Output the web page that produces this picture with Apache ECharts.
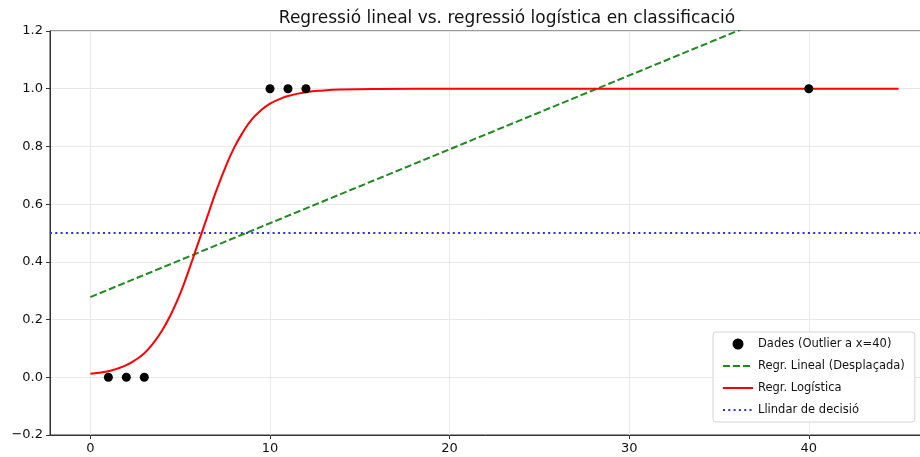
<!DOCTYPE html>
<html>
<head>
<meta charset="utf-8">
<script src="https://cdn.jsdelivr.net/npm/echarts@6/dist/echarts.min.js"></script>
<style>html,body{margin:0;padding:0;background:#fff;}#c{width:920px;height:457px;}</style>
</head>
<body>
<div id="c"></div>
<script>
// Data points (x, class)
const dataX = [1, 2, 3, 10, 11, 12, 40];
const dataY = [0, 0, 0, 1, 1, 1, 1];
// Linear regression line endpoints
const linX = [0, 45];
const linY = [0.278, 1.43];
// Logistic curve samples
const logX = [0, 0.5, 1, 1.5, 2, 2.5, 3, 3.5, 4, 4.5, 5, 5.5, 6, 6.5, 7, 7.5, 8, 8.5, 9, 9.5, 10, 10.5, 11, 12, 13, 14, 16, 20, 30, 45];
const logY = [0.012, 0.016, 0.021, 0.03, 0.042, 0.06, 0.083, 0.118, 0.163, 0.22, 0.29, 0.375, 0.465, 0.555, 0.645, 0.725, 0.795, 0.85, 0.895, 0.925, 0.948, 0.963, 0.975, 0.988, 0.994, 0.997, 0.999, 1.0, 1.0, 1.0];
// Decision threshold
const thrX = [-2.25, 47.25];
const thrY = [0.5, 0.5];
// Tick labels
const xTicks = [0, 10, 20, 30, 40];
const yTicks = [-0.2, 0.0, 0.2, 0.4, 0.6, 0.8, 1.0, 1.2];
const names = ['Dades (Outlier a x=40)', 'Regr. Lineal (Desplaçada)', 'Regr. Logística', 'Llindar de decisió'];
const title = 'Regressió lineal vs. regressió logística en classificació';

const zip = (a, b) => a.map((v, i) => [v, b[i]]);
const font = 'DejaVu Sans';
const chart = echarts.init(document.getElementById('c'));
chart.setOption({
  animation: false,
  backgroundColor: '#fff',
  title: {
    text: title, left: 502, top: 5, textAlign: 'center',
    textStyle: { fontFamily: font, fontSize: 17, fontWeight: 'normal', color: '#111' }
  },
  grid: {
    left: 50, top: 31, right: -19, bottom: 22, outerBoundsMode: 'none',
    show: true, borderColor: '#333', borderWidth: 1, backgroundColor: 'transparent'
  },
  legend: {
    orient: 'vertical', left: 713, top: 332,
    padding: [6, 10, 6, 9], itemGap: 10, itemWidth: 30, itemHeight: 11,
    backgroundColor: 'rgba(255,255,255,0.9)', borderColor: '#d4d4d4', borderWidth: 1, borderRadius: 3,
    textStyle: { fontFamily: font, fontSize: 11.5, color: '#111' },
    data: [
      { name: names[0] },
      { name: names[1], itemStyle: { opacity: 0 } },
      { name: names[2], itemStyle: { opacity: 0 } },
      { name: names[3], itemStyle: { opacity: 0 } }
    ]
  },
  xAxis: {
    type: 'value', min: -2.25, max: 47.25,
    axisLine: { show: true, onZero: false, lineStyle: { color: '#333', width: 1 } },
    axisTick: { show: true, length: 4, lineStyle: { color: '#333' }, customValues: xTicks },
    axisLabel: { customValues: xTicks, fontFamily: font, fontSize: 13, color: '#111', margin: 7 },
    splitLine: { show: true, lineStyle: { color: '#e8e8e8', width: 1 } }
  },
  yAxis: {
    type: 'value', min: -0.2, max: 1.2, interval: 0.2,
    axisLine: { show: true, onZero: false, lineStyle: { color: '#333', width: 1 } },
    axisTick: { show: true, length: 4, lineStyle: { color: '#333' } },
    axisLabel: {
      fontFamily: font, fontSize: 13, color: '#111', margin: 7,
      formatter: v => (v < -1e-9 ? '\u2212' : '') + Math.abs(v).toFixed(1)
    },
    splitLine: { show: true, lineStyle: { color: '#e8e8e8', width: 1 } }
  },
  series: [
    {
      name: names[0], type: 'scatter', data: zip(dataX, dataY), z: 5,
      symbol: 'circle', symbolSize: 9, itemStyle: { color: '#000', opacity: 1 }
    },
    {
      name: names[1], type: 'line', data: zip(linX, linY), symbol: 'none', z: 3,
      lineStyle: { color: '#1f8a1f', width: 2, type: [7, 3] }, itemStyle: { color: '#1f8a1f' }
    },
    {
      name: names[2], type: 'line', data: zip(logX, logY), symbol: 'none', smooth: 0.5, z: 4,
      lineStyle: { color: '#ff0000', width: 2 }, itemStyle: { color: '#ff0000' }
    },
    {
      name: names[3], type: 'line', data: zip(thrX, thrY), symbol: 'none', z: 2,
      lineStyle: { color: '#2b2bff', width: 2, type: [2, 3.3] }, itemStyle: { color: '#2b2bff' }
    }
  ]
});
</script>
</body>
</html>
